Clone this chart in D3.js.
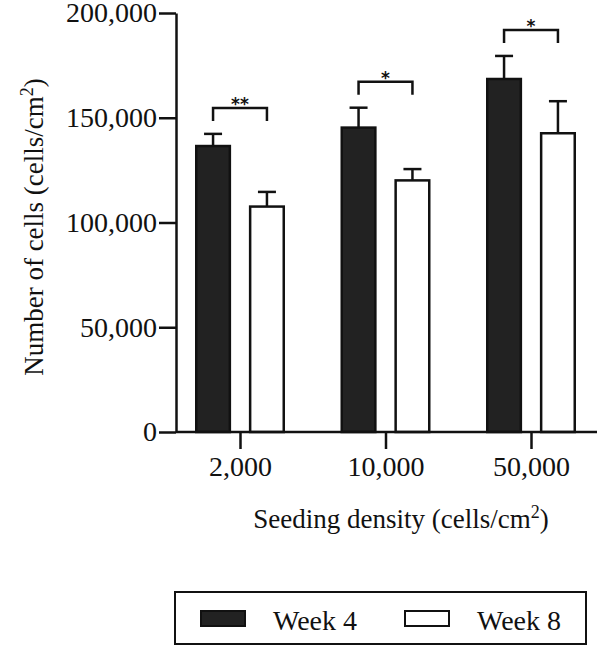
<!DOCTYPE html>
<html>
<head>
<meta charset="utf-8">
<title>Cell number by seeding density</title>
<script src="https://cdn.jsdelivr.net/npm/d3@7"></script>
<style>
body{
  margin:0;
  background:#fff}

svg{
  display:block}

.axis path, .axis line{
  stroke:#111;
  stroke-width:2.5}
</style>
</head>
<body>
<script>
// Data
const densities = ['2,000', '10,000', '50,000']
const series = ['Week 4', 'Week 8']
const week4 = [136500, 145300, 168500]
const week4Err = [5800, 9500, 11000]
const week8 = [107600, 120100, 142600]
const week8Err = [7000, 5400, 15300]
const yTicks = [0, 50000, 100000, 150000, 200000]
const signif = ['**', '*', '*']

const FONT = '"Liberation Serif", "Times New Roman", serif'
const W = 600, H = 647
const svg = d3.select('body').append('svg')
    .attr('width', W)
    .attr('height', H)

// Scales
const y = d3.scaleLinear().domain([0, 200000]).range([432, 13])
const x = d3.scalePoint().domain(densities).range([240, 531])
const xi = d3.scaleBand().domain(series).range([-45, 45]).paddingInner(0.33)
const fill = d3.scaleOrdinal().domain(series).range(['#222', '#fff'])

const rows = densities.map((d, i) => ({
  density: d,
  bars: [
    {key: 'Week 4', value: week4[i], err: week4Err[i]},
    {key: 'Week 8', value: week8[i], err: week8Err[i]}
  ],
  sig: signif[i]
}))

// Bars
const grp = svg.selectAll('.group')
  .data(rows)
  .enter().append('g')
    .attr('class', 'group')
    .attr('transform', d => `translate(${x(d.density)},0)`)

const bar = grp.selectAll('.bar')
  .data(d => d.bars)
  .enter().append('g')
    .attr('class', 'bar')

// error bars (drawn first so the bar covers the lower half)
bar.append('line')
    .attr('x1', d => xi(d.key) + xi.bandwidth() / 2)
    .attr('x2', d => xi(d.key) + xi.bandwidth() / 2)
    .attr('y1', d => y(d.value))
    .attr('y2', d => y(d.value + d.err))
    .style('stroke', '#111')
    .style('stroke-width', 2.5)

bar.append('line')
    .attr('x1', d => xi(d.key) + xi.bandwidth() / 2 - 9)
    .attr('x2', d => xi(d.key) + xi.bandwidth() / 2 + 9)
    .attr('y1', d => y(d.value + d.err))
    .attr('y2', d => y(d.value + d.err))
    .style('stroke', '#111')
    .style('stroke-width', 2.5)

bar.append('rect')
    .attr('x', d => xi(d.key) + 1.25)
    .attr('width', xi.bandwidth() - 2.5)
    .attr('y', d => y(d.value))
    .attr('height', d => y(0) - y(d.value))
    .style('fill', d => fill(d.key))
    .style('stroke', '#111')
    .style('stroke-width', 2.5)

// Significance brackets
grp.each(function(d) {
  const g = d3.select(this)
  const top = d3.max(d.bars, b => b.value + b.err)
  const by = y(top) - 26
  const x1 = xi('Week 4') + xi.bandwidth() / 2
  const x2 = xi('Week 8') + xi.bandwidth() / 2
  g.append('path')
      .attr('d', `M${x1},${by + 13}V${by}H${x2}V${by + 13}`)
      .style('fill', 'none')
      .style('stroke', '#111')
      .style('stroke-width', 2.5)
  g.append('text')
      .attr('x', (x1 + x2) / 2)
      .attr('y', by + 2)
      .attr('text-anchor', 'middle')
      .style('font-family', '"DejaVu Sans", sans-serif')
      .style('font-weight', 'bold')
      .style('font-size', '17px')
      .style('fill', '#111')
      .text(d.sig)
})

// Axes
svg.append('g')
    .attr('class', 'axis')
    .attr('transform', 'translate(176,0)')
    .call(d3.axisLeft(y).tickValues(yTicks).tickFormat(d3.format(',')).tickSize(17).tickSizeOuter(0).tickPadding(2))
    .call(g => g.selectAll('text').style('font-size', '28px').style('font-family', FONT).style('fill', '#111'))

svg.append('g')
    .attr('class', 'axis')
    .attr('transform', `translate(0,${y(0)})`)
    .call(d3.axisBottom(x).tickSize(17).tickSizeOuter(0).tickPadding(7))
    .call(g => g.select('.domain').attr('d', 'M176,0H597'))
    .call(g => g.selectAll('text').style('font-size', '28px').style('font-family', FONT).style('fill', '#111'))

// Axis titles
const yTitle = svg.append('text')
    .attr('transform', 'translate(43,227) rotate(-90)')
    .attr('text-anchor', 'middle')
    .style('font-family', FONT)
    .style('font-size', '27px')
    .style('fill', '#111')
yTitle.append('tspan').text('Number of cells (cells/cm')
yTitle.append('tspan').attr('dy', -10).style('font-size', '18px').text('2')
yTitle.append('tspan').attr('dy', 10).text(')')

const xTitle = svg.append('text')
    .attr('x', 401)
    .attr('y', 528)
    .attr('text-anchor', 'middle')
    .style('font-family', FONT)
    .style('font-size', '27px')
    .style('fill', '#111')
xTitle.append('tspan').text('Seeding density (cells/cm')
xTitle.append('tspan').attr('dy', -10).style('font-size', '18px').text('2')
xTitle.append('tspan').attr('dy', 10).text(')')

// Legend
const legend = svg.append('g')
svg.append('rect')
    .attr('x', 175).attr('y', 592)
    .attr('width', 411).attr('height', 52)
    .style('fill', 'none')
    .style('stroke', '#111')
    .style('stroke-width', 2)

const lx = d3.scaleOrdinal().domain(series).range([201, 405])
const item = legend.selectAll('.item')
  .data(series)
  .enter().append('g')
    .attr('transform', d => `translate(${lx(d)},611)`)

item.append('rect')
    .attr('width', 44).attr('height', 15)
    .style('fill', d => fill(d))
    .style('stroke', '#111')
    .style('stroke-width', 2)

item.append('text')
    .attr('x', 72)
    .attr('y', 19)
    .style('font-family', FONT)
    .style('font-size', '28px')
    .style('fill', '#111')
    .text(d => d)
</script>
</body>
</html>
